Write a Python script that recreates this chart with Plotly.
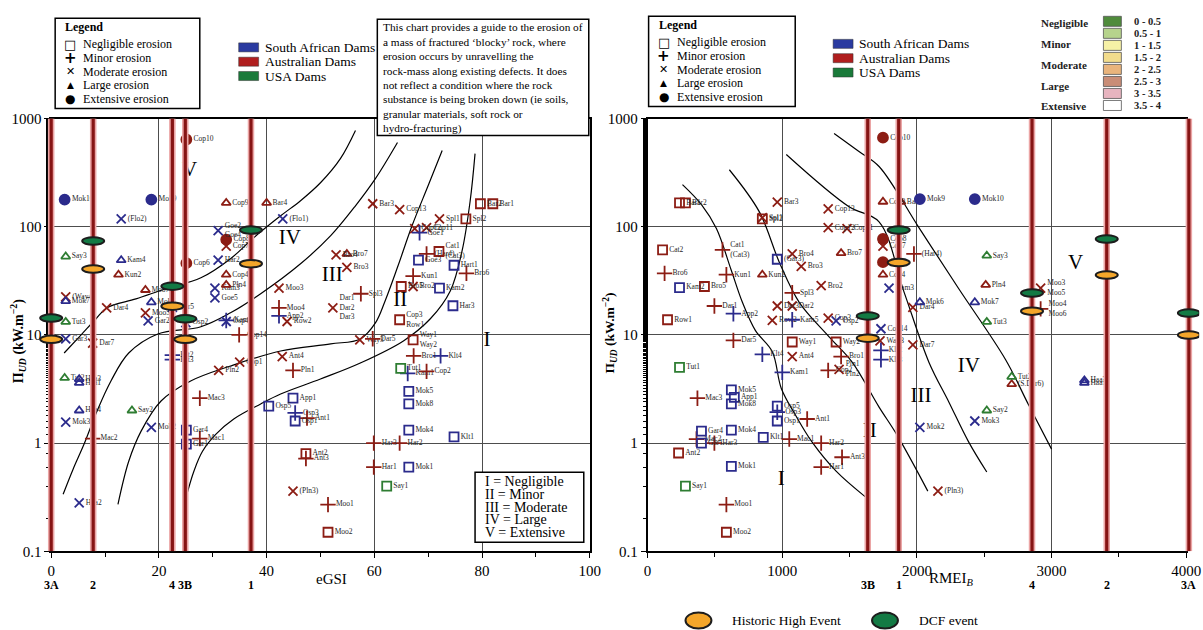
import plotly.graph_objects as go

# ---------------- data ----------------
COL = {"SA": "#2b2b8c", "AU": "#8c1d14", "US": "#2e7d32"}
SYM = {"N": "square-open", "m": "cross-thin-open", "M": "x-thin-open",
       "L": "triangle-up-open", "E": "circle"}

# left chart (eGSI)
L_name = ["Cop10", "Mok10", "Mok9", "(Flo2)", "Cop9", "Bar4", "(Flo1)", "Goe2<br>Goe4", "Cop8", "Cop7",
          "Cop6", "Cop4", "Pln4", "Har2", "Say3", "Kam4", "Kun2", "Moo7", "Mok6", "Dar4",
          "Moo5", "Gar2", "Gar3", "Tut3", "Gar5", "Kam3", "Goe5", "Kam5", "Osp4", "Osp2",
          "Cop14", "Moo3", "Moo4", "App2", "Row2", "Bro4", "Bro7", "Bro3", "Dar1<br>Dar2<br>Dar3", "Spl3",
          "Bar3", "Cop13", "Spl1", "Spl2", "Bar2", "Bar1", "Cop12", "Cop11", "Goe1", "(Har4)",
          "Goe3", "Cat1<br>(Cat3)", "Hart1", "Bro6", "Kun1", "Bro2", "Bro5", "Kam2", "Har3", "Cop3<br>Row1",
          "Dar5", "Way3", "Way1<br>Way2", "Bro1", "Klt4", "Tut1", "Kam1", "Cop2", "Ant4", "Pln1",
          "App1", "Osp3", "Osp5", "Osp1", "Ant1", "Mok5", "Mok8", "Mok4", "Mok1", "Klt1",
          "Har3", "Har2", "Har1", "Ant2", "Ant3", "(Pln3)", "Moo1", "Moo2", "Say1", "Dar7",
          "Tut2", "Haa3", "Haa1", "Haa4", "Say2", "Mok3", "Mac2", "Mok2", "Gar4", "Gar1",
          "Mac1", "Mac3", "Klt2", "Klt3", "Pln2", "Cop1", "Haa2", "(Way4)", "Mok7"]
L_x = [25.1, 2.5, 18.6, 13, 32.5, 40, 43, 31, 32.5, 32.5,
       25.1, 32.5, 32.5, 31, 2.7, 13, 12.5, 17.5, 18.6, 10.3,
       17.5, 18.0, 2.7, 2.7, 22.5, 30.4, 30.4, 32.5, 32.5, 25,
       34.9, 42.3, 42.3, 42.3, 43.8, 52.9, 54.9, 54.9, 52.3, 57.5,
       59.7, 64.7, 72.1, 77, 79.7, 82, 67.5, 69.7, 68.4, 69.7,
       68.2, 72, 74.8, 77.1, 67.2, 67.2, 65, 72.1, 74.6, 64.7,
       59.7, 57.3, 67.2, 67.3, 72.3, 64.9, 66.2, 69.7, 42.9, 44.9,
       44.9, 45.3, 40.4, 45.3, 47.5, 66.4, 66.4, 66.4, 66.4, 74.8,
       59.9, 64.7, 59.9, 47.3, 47.3, 44.9, 51.4, 51.4, 62.3, 7.7,
       2.5, 5.2, 5.2, 5.2, 15, 2.7, 7.7, 18.6, 25.1, 25.1,
       27.6, 27.6, 22.5, 22.5, 31.1, 35, 5.2, 2.7, 2.7]
L_y = [640, 178, 178, 118, 166, 166, 118, 92, 76, 66,
       46, 36, 29, 49, 53, 49, 36, 26, 20, 17.8,
       16, 13.5, 9.2, 13.2, 18, 27, 22, 13.6, 13.3, 13,
       10, 27, 17.8, 15, 13.3, 55, 56, 42, 17.8, 24,
       163, 144, 118, 118, 163, 163, 96, 98, 88, 56,
       49, 59, 44, 37, 35, 28, 28, 27, 18.6, 13.8,
       9.2, 9, 9, 6.4, 6.4, 4.9, 4.4, 4.6, 6.3, 4.7,
       2.6, 1.9, 2.2, 1.6, 1.7, 3.0, 2.3, 1.32, 0.6, 1.14,
       1.0, 1.0, 0.6, 0.8, 0.72, 0.36, 0.27, 0.15, 0.4, 8.4,
       4.0, 3.9, 3.6, 2.0, 2.0, 1.56, 1.1, 1.4, 1.32, 0.98,
       1.1, 2.6, 6.5, 5.9, 4.7, 5.6, 0.28, 22.5, 20.5]
L_cls = ["E", "E", "E", "M", "L", "L", "M", "M", "E", "M",
         "E", "L", "L", "M", "L", "L", "L", "L", "L", "M",
         "M", "M", "M", "L", "M", "M", "M", "m", "M", "M",
         "m", "M", "m", "m", "M", "M", "L", "M", "M", "m",
         "M", "M", "M", "N", "N", "N", "M", "M", "m", "m",
         "N", "N", "N", "m", "m", "M", "N", "N", "N", "N",
         "m", "M", "N", "m", "m", "N", "m", "m", "M", "m",
         "N", "m", "N", "N", "m", "N", "N", "N", "N", "N",
         "m", "m", "m", "N", "m", "M", "m", "N", "N", "M",
         "L", "L", "L", "L", "L", "M", "m", "M", "N", "N",
         "m", "m", "m", "m", "M", "M", "M", "M", "L"]
L_ctry = ["AU", "SA", "SA", "SA", "AU", "AU", "SA", "SA", "AU", "AU",
          "AU", "AU", "AU", "SA", "US", "SA", "AU", "AU", "SA", "AU",
          "AU", "SA", "SA", "US", "SA", "SA", "SA", "SA", "SA", "SA",
          "AU", "AU", "AU", "SA", "AU", "AU", "AU", "AU", "AU", "AU",
          "AU", "AU", "AU", "AU", "AU", "AU", "AU", "AU", "SA", "AU",
          "SA", "AU", "SA", "AU", "AU", "AU", "AU", "SA", "SA", "AU",
          "AU", "AU", "AU", "AU", "SA", "US", "SA", "AU", "AU", "AU",
          "SA", "SA", "SA", "SA", "AU", "SA", "SA", "SA", "SA", "SA",
          "AU", "AU", "AU", "AU", "AU", "AU", "AU", "AU", "US", "AU",
          "US", "SA", "SA", "SA", "US", "SA", "AU", "SA", "SA", "SA",
          "AU", "AU", "SA", "SA", "AU", "AU", "SA", "AU", "SA"]

# right chart (RMEI_B)
R_name = ["Bar1", "Bar2", "Spl1", "Spl2", "Bar3", "Cop13", "Cop12", "Cop11", "Cat2", "Cat1<br>(Cat3)",
          "(Gar3)", "Bro4", "Bro7", "Bro3", "Bro6", "Kun1", "Kun2", "Kam2", "Bro5", "Spl3",
          "Bro2", "Dar1", "Dar3", "Dar2", "App2", "Row1", "Row2", "Kam5", "Cop3", "Osp2",
          "Dar5", "Way1", "Way2", "Klt4", "Ant4", "Bro1", "Tut1", "Kam1", "Cop2", "Pln1<br>Pln2",
          "Mok5", "App1", "Mok8", "Mac3", "Osp5", "Osp3", "Osp1", "Ant1", "Gar4", "Mok4",
          "Klt1", "Mac1", "Mac2", "Gar1", "Har3", "Har2", "Ant2", "Ant3", "Mok1", "Har1",
          "Say1", "Moo1", "Moo2", "Cop10", "Cop9", "Bar4", "Mok9", "Mok10", "Cop8", "Cop7",
          "(Har4)", "Say3", "Cop6", "Cop4", "Kam3", "Pln4", "Moo3<br>Moo5", "Mok6", "Dar4", "Mok7",
          "Moo4<br>Moo6", "Tut3", "Cop14", "Way3", "Dar7", "Klt2", "Klt3", "Tut2", "(S.Dar6)", "Haa3",
          "Haa1", "Say2", "Mok3", "Mok2", "(Pln3)"]
R_x = [237, 281, 852, 852, 963, 1341, 1341, 1481, 111, 556,
       963, 1074, 1437, 1141, 126, 585, 852, 237, 422, 1074,
       1289, 496, 963, 1074, 637, 148, 926, 1074, 1341, 1400,
       637, 1074, 1400, 852, 1074, 1437, 237, 1000, 1341, 1422,
       622, 644, 622, 370, 963, 963, 963, 1185, 400, 622,
       859, 1052, 363, 400, 496, 1289, 230, 1444, 622, 1289,
       281, 585, 585, 1748, 1748, 1881, 2022, 2430, 1748, 1748,
       1978, 2519, 1748, 1748, 1793, 2511, 2919, 2022, 1970, 2430,
       2919, 2519, 1733, 1726, 1970, 1733, 1733, 2704, 2704, 3244,
       3244, 2519, 2430, 2022, 2156]
R_y = [166, 166, 121, 118, 169, 146, 98, 96, 61, 61,
       50, 56, 57, 43, 37, 36, 36, 27.4, 28, 24.5,
       28.5, 18.5, 18.5, 18.5, 15.7, 13.8, 13.6, 13.8, 14.3, 13.5,
       8.9, 8.6, 8.6, 6.6, 6.3, 6.3, 5.0, 4.5, 4.7, 4.8,
       3.1, 2.65, 2.3, 2.6, 2.2, 1.93, 1.6, 1.67, 1.29, 1.32,
       1.13, 1.09, 1.09, 1.0, 1.0, 1.0, 0.81, 0.74, 0.61, 0.6,
       0.4, 0.27, 0.15, 665, 170, 170, 180, 180, 77, 66,
       56, 54, 47, 36, 27, 29, 27, 20, 18, 20,
       17.4, 13.2, 11.4, 8.8, 8.1, 7.2, 5.9, 4.1, 3.5, 3.8,
       3.6, 2.0, 1.6, 1.4, 0.36]
R_cls = ["N", "N", "M", "N", "M", "M", "M", "M", "N", "m",
         "N", "M", "L", "M", "m", "m", "L", "N", "N", "m",
         "M", "m", "M", "M", "m", "N", "M", "m", "M", "M",
         "m", "N", "N", "m", "M", "m", "N", "m", "m", "M",
         "N", "N", "N", "m", "N", "m", "N", "m", "N", "N",
         "N", "m", "m", "N", "m", "m", "N", "m", "N", "m",
         "N", "m", "N", "E", "L", "L", "E", "E", "E", "M",
         "m", "L", "E", "L", "M", "L", "M", "L", "M", "L",
         "m", "L", "M", "M", "M", "m", "m", "L", "L", "L",
         "L", "L", "M", "M", "M"]
R_ctry = ["AU", "AU", "AU", "AU", "AU", "AU", "AU", "AU", "AU", "AU",
          "SA", "AU", "AU", "AU", "AU", "AU", "AU", "SA", "AU", "AU",
          "AU", "AU", "AU", "AU", "SA", "AU", "AU", "SA", "AU", "SA",
          "AU", "AU", "AU", "SA", "AU", "AU", "US", "SA", "AU", "AU",
          "SA", "SA", "SA", "AU", "SA", "SA", "SA", "AU", "SA", "SA",
          "SA", "AU", "AU", "SA", "AU", "AU", "AU", "AU", "SA", "AU",
          "US", "AU", "AU", "AU", "AU", "AU", "SA", "SA", "AU", "AU",
          "AU", "US", "AU", "AU", "SA", "AU", "AU", "SA", "AU", "SA",
          "AU", "US", "SA", "AU", "AU", "SA", "SA", "US", "AU", "SA",
          "SA", "US", "SA", "SA", "AU"]

# dam reference lines with events
L_dam = ["3A", "2", "4", "3B", "1"]
L_dam_x = [0, 7.8, 22.5, 24.9, 37.1]
L_hist = [8.4, 37.5, 17, 8.4, 42]
L_dcf = [13.2, 68, 26, 13, 86]
R_dam = ["3B", "1", "4", "2", "3A"]
R_dam_x = [1635, 1865, 2855, 3410, 4020]
R_hist = [8.6, 43, 15.3, 33, 9.2]
R_dcf = [13.8, 86, 22.5, 71, 14.7]

# erosion-class boundary curves
L_curves = [
    ([2.41, 5.56, 8.33, 10.37, 15.74, 21.3, 27.8, 33.3, 37.6, 42.6, 46.3, 50.0, 53.7, 56.5],
     [6.8, 10.0, 14.1, 17.8, 21.5, 26.7, 33.7, 50.6, 79, 126, 174, 255, 426, 776]),
    ([2.22, 4.07, 6.11, 8.52, 11.1, 14.4, 19.8, 27.8, 33.3, 38.9, 46.3, 51.9, 56.5, 60.2, 64.3],
     [0.337, 0.574, 0.98, 1.98, 3.75, 6.8, 10.2, 11.9, 16.0, 24.0, 45.4, 82.6, 156, 278, 600]),
    ([12.4, 14.4, 16.7, 20.4, 25.9, 33.3, 42.6, 51.9, 57.4, 60.2, 62.0, 64.4, 67.0, 70.0, 72.6],
     [0.272, 0.68, 1.29, 2.45, 3.75, 5.16, 7.1, 8.26, 9.18, 12.9, 20.6, 43.5, 102, 240, 506]),
    ([25.0, 26.5, 28.1, 30.6, 33.9, 38.9, 42.6, 50.0, 57.4, 65.4, 70.4, 74.1, 76.3, 77.8, 78.7],
     [0.31, 0.55, 0.84, 1.21, 1.67, 2.30, 2.84, 3.91, 5.5, 8.8, 14.1, 25.5, 60, 174, 474]),
]
R_curves = [
    ([259, 400, 511, 620, 704, 800, 926, 993, 1100, 1222, 1400, 1615],
     [245, 160, 96, 40, 20, 11, 7, 3.2, 1.8, 1.02, 0.55, 0.32]),
    ([607, 830, 978, 1126, 1348, 1519, 1719, 1852, 2081],
     [336, 137, 47, 20, 9.6, 5.6, 2.15, 1.19, 0.36]),
    ([1030, 1496, 1719, 1904, 2089, 2237, 2385, 2519],
     [465, 153, 111, 25, 5.6, 2.4, 1.02, 0.54]),
    ([1385, 1570, 1719, 2015, 2311, 2659, 2830, 3000],
     [727, 495, 360, 98, 26.7, 5.9, 2.25, 0.88]),
]

L_regions = ["V", "IV", "III", "II", "I"]
L_reg_x = [25.7, 44.3, 52.2, 64.8, 80.9]
L_reg_y = [330, 77, 35, 20.6, 8.8]
R_regions = ["I", "II", "III", "IV", "V"]
R_reg_x = [993, 1650, 2030, 2385, 3178]
R_reg_y = [0.46, 1.26, 2.67, 5.06, 45.5]

# ---------------- page geometry ----------------
# target picture is 1203x630; the photographed page maps figure pixels P to picture
# pixels T = A + S*P, so the figure is made a bit larger and positions are compensated.
TW, TH = 1203, 630
AX, AY, SX, SY = 2.7, 7.7, 0.987, 0.9735
W, H = 1219, 647


def fx(t):
    return (t - AX) / (SX * W)


def fy(t):
    return 1 - (t - AY) / (SY * H)


fig = go.Figure()
SERIF = "Liberation Serif"
PAD = 13
GRID = "#4d4d4d"
XR_L = [0, 100]
XR_R = [0, 4000]
PX_L = (50, 590)
PX_R = (648, 1188)
DOM_L = [fx(PX_L[0]), fx(PX_L[1])]
DOM_R = [fx(PX_R[0]), fx(PX_R[1])]
DOM_Y = [fy(550), fy(118)]


def ext(px, xr):
    k = (xr[1] - xr[0]) / (px[1] - px[0])
    return ([fx(px[0] - PAD), fx(px[1] + PAD)], [xr[0] - PAD * k, xr[1] + PAD * k])


axis_common = dict(showline=True, linecolor="black", linewidth=1.5, mirror=True,
                   ticks="outside", ticklen=5, tickcolor="black",
                   tickfont=dict(family=SERIF, size=15, color="black"),
                   showgrid=True, gridcolor=GRID, gridwidth=1.3, zeroline=False)
ylog = dict(domain=DOM_Y, type="log", range=[-1, 3],
            tickvals=[0.1, 1, 10, 100, 1000], ticktext=["0.1", "1", "10", "100", "1000"],
            minor=dict(ticks="outside", ticklen=3, showgrid=False))
dL, rL = ext(PX_L, XR_L)
dR, rR = ext(PX_R, XR_R)
hidden = dict(visible=False, showgrid=False, zeroline=False)

fig.update_layout(
    width=W, height=H, margin=dict(l=0, r=0, t=0, b=0), autosize=False,
    paper_bgcolor="white", plot_bgcolor="rgba(0,0,0,0)", showlegend=False,
    xaxis=dict(domain=DOM_L, range=XR_L, dtick=20, anchor="y",
               minor=dict(ticks="outside", dtick=10, ticklen=4, showgrid=False), **axis_common),
    yaxis=dict(anchor="x", **ylog, **axis_common),
    xaxis2=dict(domain=DOM_R, range=XR_R, dtick=1000, anchor="y2",
                minor=dict(ticks="outside", dtick=500, ticklen=4, showgrid=False), **axis_common),
    yaxis2=dict(anchor="x2", **ylog, **axis_common),
    xaxis3=dict(domain=dL, range=rL, anchor="y3", **hidden),
    yaxis3=dict(domain=DOM_Y, type="log", range=[-1, 3], anchor="x3", **hidden),
    xaxis4=dict(domain=dR, range=rR, anchor="y4", **hidden),
    yaxis4=dict(domain=DOM_Y, type="log", range=[-1, 3], anchor="x4", **hidden),
)


def add_dams(names, xs, hist, dcf, xa, ya, xmain):
    for x in xs:
        fig.add_trace(go.Scatter(x=[x, x], y=[0.1, 1000], mode="lines", xaxis=xa, yaxis=ya,
                                 line=dict(color="#eba5a5", width=6.5), hoverinfo="skip"))
        fig.add_trace(go.Scatter(x=[x, x], y=[0.1, 1000], mode="lines", xaxis=xa, yaxis=ya,
                                 line=dict(color="#861414", width=3.2), hoverinfo="skip"))
    for x, h, d in zip(xs, hist, dcf):
        for val, col in ((d, "#137a44"), (h, "#f4a62a")):
            fig.add_shape(type="circle", xref=xa, yref=ya, xsizemode="pixel", ysizemode="pixel",
                          xanchor=x, yanchor=val, x0=-11, x1=11, y0=-7.5, y1=7.5,
                          fillcolor=col, line=dict(color="#1d1d1d", width=2), layer="above")
    for n, x in zip(names, xs):
        fig.add_annotation(x=x, y=DOM_Y[0], xref=xa, yref="paper", text="<b>%s</b>" % n,
                           showarrow=False, yshift=-34, xanchor="center", yanchor="middle",
                           font=dict(family=SERIF, size=12, color="black"))


def add_points(names, xs, ys, cls, ctry, xa, ya):
    groups = {}
    for i in range(len(names)):
        groups.setdefault((cls[i], ctry[i]), []).append(i)
    for (c, k), idx in groups.items():
        size = {"N": 9, "m": 11, "M": 9, "L": 8, "E": 10}[c]
        fig.add_trace(go.Scatter(
            x=[xs[i] for i in idx], y=[ys[i] for i in idx], xaxis=xa, yaxis=ya,
            mode="markers+text", hoverinfo="skip", text=[names[i] for i in idx],
            textposition="middle right", cliponaxis=False,
            textfont=dict(family=SERIF, size=7.5, color="#262626"),
            marker=dict(symbol=SYM[c], size=size, color=COL[k],
                        line=dict(color=COL[k], width=1.8))))


def add_curves(curves, xa, ya):
    for cx, cy in curves:
        fig.add_trace(go.Scatter(x=cx, y=cy, xaxis=xa, yaxis=ya, mode="lines",
                                 line=dict(color="black", width=1.2, shape="spline", smoothing=1.0),
                                 hoverinfo="skip"))


add_curves(L_curves, "x", "y")
add_curves(R_curves, "x2", "y2")
fig.add_trace(go.Scatter(x=L_reg_x, y=L_reg_y, mode="text", text=L_regions, xaxis="x", yaxis="y",
                         textfont=dict(family=SERIF, size=21, color="black"), hoverinfo="skip"))
fig.add_trace(go.Scatter(x=R_reg_x, y=R_reg_y, mode="text", text=R_regions, xaxis="x2", yaxis="y2",
                         textfont=dict(family=SERIF, size=21, color="black"), hoverinfo="skip"))
add_points(L_name, L_x, L_y, L_cls, L_ctry, "x", "y")
add_points(R_name, R_x, R_y, R_cls, R_ctry, "x2", "y2")
add_dams(L_dam, L_dam_x, L_hist, L_dcf, "x3", "y3", "x")
add_dams(R_dam, R_dam_x, R_hist, R_dcf, "x4", "y4", "x2")


def pann(x, y, text, size, xanchor="left", **kw):
    fig.add_annotation(x=fx(x), y=fy(y), xref="paper", yref="paper", text=text, showarrow=False,
                       xanchor=xanchor, yanchor=kw.pop("yanchor", "middle"),
                       font=dict(family=kw.pop("family", SERIF), size=size, color=kw.pop("color", "black")),
                       **kw)


def prect(x0, y0, x1, y1, **kw):
    fig.add_shape(type=kw.pop("type", "rect"), xref="paper", yref="paper", x0=fx(x0), x1=fx(x1),
                  y0=fy(y1), y1=fy(y0), **kw)


# axis titles
pann(331, 578, "eGSI", 15, "center")
pann(953, 578, "RMEI<i><sub>B</sub></i>", 15, "center")
pann(17, 340, "<b>\u03a0<i><sub>UD</sub></i> (kW.m<sup>\u22122</sup>)</b>", 14, "center", textangle=-90)
pann(611, 332, "<b>\u03a0<i><sub>UD</sub></i> (kW.m<sup>\u22122</sup>)</b>", 13.5, "center", textangle=-90)


def sym_legend(x0, y0, x1, y1):
    prect(x0, y0, x1, y1, line=dict(color="black", width=1.5))
    pann(x0 + 8, y0 + 9, "<b>Legend</b>", 12)
    labels = ["Negligible erosion", "Minor erosion", "Moderate erosion", "Large erosion", "Extensive erosion"]
    glyphs = ["\u25a1", "+", "\u2715", "\u25b2", "\u25cf"]
    gsize = [13, 15, 11, 9, 12]
    for i, (lab, g) in enumerate(zip(labels, glyphs)):
        yy = y0 + 26 + i * 13.6
        pann(x0 + 26, yy, lab, 12)
        pann(x0 + 15, yy, "<b>%s</b>" % g, gsize[i], "center", family="DejaVu Sans")


sym_legend(54, 18, 199, 108)
sym_legend(649, 16, 796, 106)

for bx, by in ((238, 47), (834, 43.5)):
    for i, (lab, col) in enumerate([("South African Dams", "#2a3aa0"), ("Australian Dams", "#b01e1e"),
                                    ("USA Dams", "#1a7a3a")]):
        yy = by + i * 14.3
        prect(bx, yy - 4.5, bx + 20, yy + 4.5, fillcolor=col, line=dict(color="#333333", width=0.5))
        pann(bx + 24, yy, lab, 13.5)

cls_labels = ["Negligible", "Minor", "Moderate", "Large", "Extensive"]
for i, lab in enumerate(cls_labels):
    pann(1040, 23 + i * 20.7, "<b>%s</b>" % lab, 11, color="#222222")
rate_labels = ["0 - 0.5", "0.5 - 1", "1 - 1.5", "1.5 - 2", "2 - 2.5", "2.5 - 3", "3 - 3.5", "3.5 - 4"]
rate_cols = ["#4f8b3b", "#b6d38c", "#f6f1a6", "#f2dc8c", "#e9b47c", "#c98d77", "#e7b4bf", "#ffffff"]
for i, (lab, col) in enumerate(zip(rate_labels, rate_cols)):
    yy = 21 + i * 12
    prect(1105, yy - 5, 1123, yy + 5, fillcolor=col, line=dict(color="#555555", width=0.8))
    pann(1134, yy, "<b>%s</b>" % lab, 10.5, color="#222222")

prect(377, 19, 589, 135, line=dict(color="black", width=1.5), fillcolor="white")
note = ["This chart provides a guide to the erosion of", "a mass of fractured \u2018blocky\u2019 rock, where",
        "erosion occurs by unravelling the", "rock-mass along existing defects. It does",
        "not reflect a condition where the rock", "substance is being broken down (ie soils,",
        "granular materials, soft rock or", "hydro-fracturing)"]
for i, line in enumerate(note):
    pann(381, 27 + i * 14.4, line, 11.3)

prect(475, 471, 584, 541, line=dict(color="black", width=1.5), fillcolor="white")
for i, line in enumerate(["I = Negligible", "II = Minor", "III = Moderate", "IV = Large", "V = Extensive"]):
    pann(483, 480 + i * 12.9, line, 14)

for cx, col, lab in ((699, "#f4a62a", "Historic High Event"), (886, "#137a44", "DCF event")):
    prect(cx - 13, 611, cx + 13, 627, type="circle", fillcolor=col, line=dict(color="#1d1d1d", width=2))
    pann(cx + 32, 619, lab, 13.5)

JS = ("var d=document.getElementById('{plot_id}');"
      "document.documentElement.style.margin='0';document.documentElement.style.overflow='hidden';"
      "document.body.style.margin='0';document.body.style.padding='0';document.body.style.overflow='hidden';"
      "d.style.position='absolute';d.style.left='0px';d.style.top='0px';")
fig.write_html("out.html", config={"displayModeBar": False}, post_script=JS)
